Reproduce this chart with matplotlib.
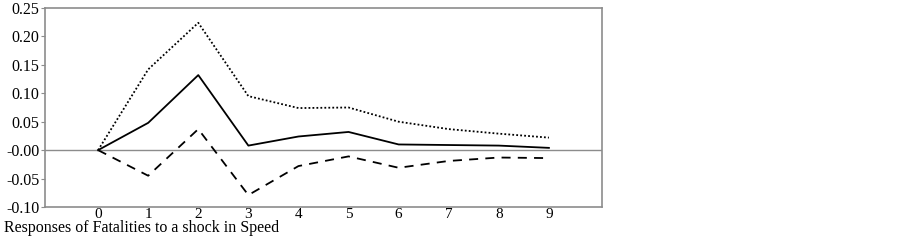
import matplotlib
matplotlib.use("Agg")
import matplotlib.pyplot as plt
import matplotlib.ticker as mticker

# Impulse response data
periods = [0, 1, 2, 3, 4, 5, 6, 7, 8, 9]
response = [0.000, 0.048, 0.132, 0.008, 0.024, 0.032, 0.010, 0.009, 0.008, 0.004]
upper_band = [0.000, 0.142, 0.224, 0.095, 0.074, 0.075, 0.050, 0.037, 0.029, 0.022]
lower_band = [0.000, -0.045, 0.037, -0.079, -0.028, -0.011, -0.031, -0.019, -0.013, -0.014]
y_ticks = [-0.10, -0.05, 0.00, 0.05, 0.10, 0.15, 0.20, 0.25]

plt.rcParams["font.family"] = ["Liberation Serif", "DejaVu Serif"]

fig = plt.figure(figsize=(9.03, 2.41), dpi=100)
ax = fig.add_axes([45 / 903, 34 / 241, 557 / 903, 199 / 241])

ax.axhline(0, color="#8c8c8c", linewidth=1.0, zorder=1)
ax.plot(periods, response, color="black", linewidth=1.3, linestyle="-", zorder=3)
ax.plot(periods, upper_band, color="black", linewidth=1.3, linestyle=(0, (1, 1.2)), zorder=3)
ax.plot(periods, lower_band, color="black", linewidth=1.3, linestyle=(0, (5, 4)), zorder=3)

ax.set_xlim(-1.06, 10.06)
ax.set_ylim(-0.10, 0.25)
ax.set_xticks(periods)
ax.set_yticks(y_ticks)
ax.yaxis.set_major_formatter(
    mticker.FuncFormatter(lambda v, _: "-0.00" if abs(v) < 1e-9 else f"{v:.2f}")
)
ax.tick_params(axis="x", length=0, labelsize=11, pad=1)
ax.tick_params(axis="y", length=3, labelsize=11.5, pad=1, color="#8c8c8c")

for side in ax.spines.values():
    side.set_color("#8c8c8c")
    side.set_linewidth(1.2)

fig.text(4 / 903, 1 - 232 / 241, "Responses of Fatalities to a shock in Speed",
         fontsize=11.5, ha="left", va="baseline")

fig.savefig("out.png", dpi=100)
